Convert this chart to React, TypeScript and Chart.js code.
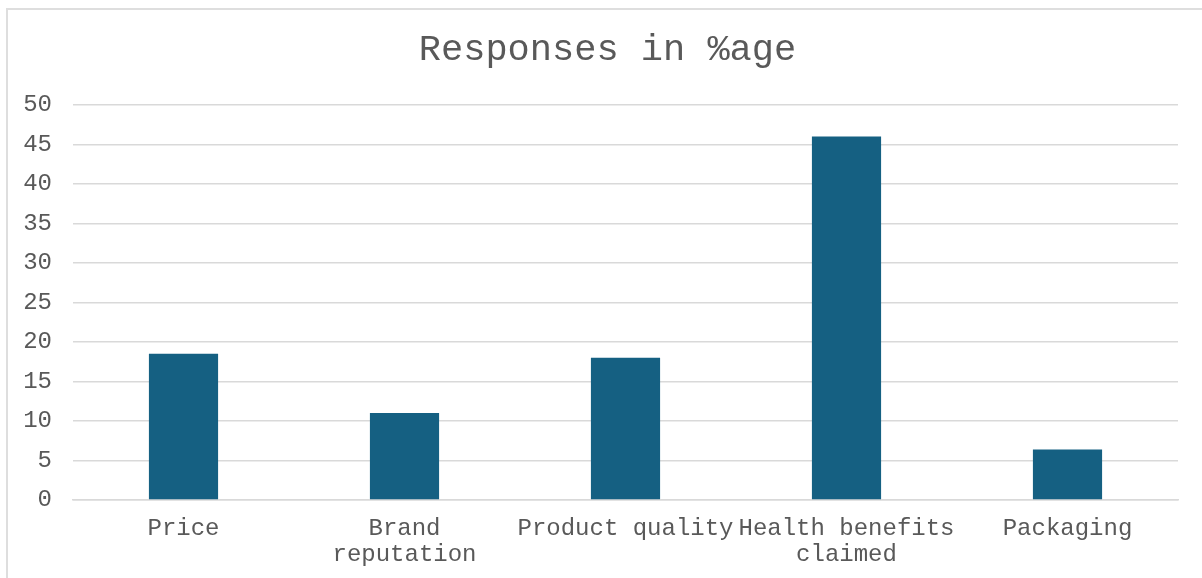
import React, { useEffect, useRef } from "react";
import { Chart, registerables } from "chart.js";

Chart.register(...registerables);

// Survey factors and share of responses (%)
const categories: (string | string[])[] = [
  "Price",
  ["Brand", "reputation"],
  "Product quality",
  ["Health benefits", "claimed"],
  "Packaging",
];
const responses: number[] = [18.5, 11, 18, 46, 6.4];

const yMin = 0;
const yMax = 50;
const yStep = 5;

const chartTitle = "Responses in %age";

const FONT = "'Liberation Mono', 'DejaVu Sans Mono', monospace";
const TEXT = "#595959";
const GRID = "#d9d9d9";
const BAR = "#156082";

// Centre the title over the whole card (which runs past the right edge) rather than the plot
const titleCentre = {
  id: "titleCentre",
  afterLayout(chart: any) {
    const t = chart.titleBlock;
    if (t) {
      t.left = 0;
      t.right = 1215;
      t.width = 1215;
    }
  },
};

export default function App() {
  const canvasRef = useRef<HTMLCanvasElement | null>(null);

  useEffect(() => {
    const canvas = canvasRef.current;
    if (!canvas) return;
    const chart = new Chart(canvas, {
      type: "bar",
      data: {
        labels: categories,
        datasets: [
          {
            label: "Responses",
            data: responses,
            backgroundColor: BAR,
            borderWidth: 0,
            barPercentage: 0.313,
            categoryPercentage: 1,
          },
        ],
      },
      options: {
        animation: false,
        responsive: false,
        devicePixelRatio: 1,
        layout: { padding: { top: 0, left: 0, right: 24, bottom: 0 } },
        plugins: {
          legend: { display: false },
          tooltip: { enabled: false },
          title: {
            display: true,
            text: chartTitle,
            color: TEXT,
            font: { family: FONT, size: 37, weight: "normal", lineHeight: 1.2 },
            padding: { top: 28, bottom: 32.6 },
          },
        },
        scales: {
          x: {
            grid: { display: false, drawTicks: false },
            border: { display: true, color: GRID, width: 1.5 },
            ticks: {
              color: TEXT,
              font: { family: FONT, size: 24, lineHeight: 1.1 },
              padding: 15,
              maxRotation: 0,
              autoSkip: false,
            },
            afterFit: (scale: any) => {
              scale.height = 78;
            },
          },
          y: {
            min: yMin,
            max: yMax,
            grid: { color: GRID, lineWidth: 1.5, drawTicks: false },
            border: { display: false },
            ticks: {
              stepSize: yStep,
              color: TEXT,
              font: { family: FONT, size: 24 },
              padding: 21,
            },
            afterFit: (scale: any) => {
              scale.width = 73;
            },
          },
        },
      },
      plugins: [titleCentre],
    });
    return () => chart.destroy();
  }, []);

  return (
    <div
      style={{
        position: "fixed",
        left: 0,
        top: 0,
        width: 1202,
        height: 578,
        overflow: "hidden",
        background: "#ffffff",
      }}
    >
      <div
        style={{
          position: "absolute",
          left: 6,
          top: 8,
          width: 1400,
          height: 800,
          border: "2px solid #dedede",
        }}
      />
      <canvas
        ref={canvasRef}
        width={1202}
        height={578}
        style={{ position: "absolute", left: 0, top: 0, width: 1202, height: 578 }}
      />
    </div>
  );
}
